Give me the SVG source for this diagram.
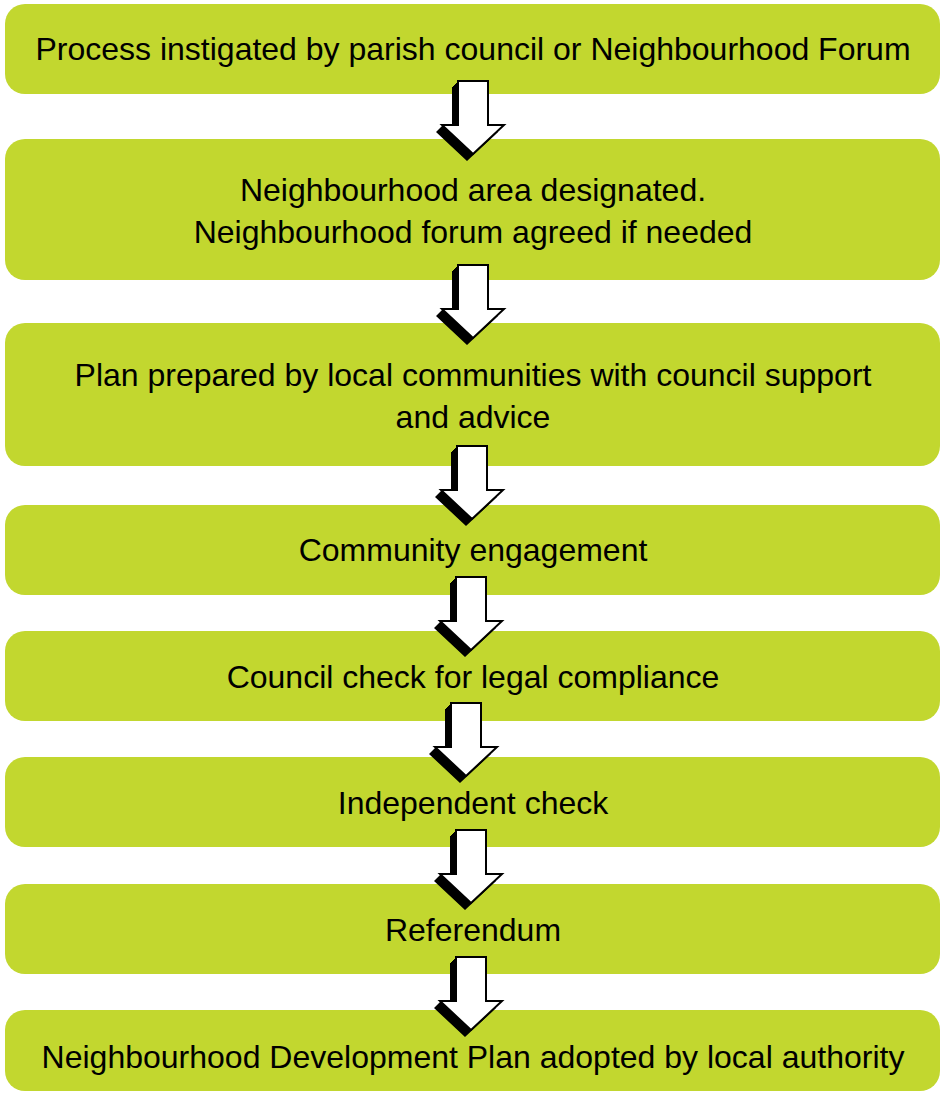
<svg xmlns="http://www.w3.org/2000/svg" xmlns:xlink="http://www.w3.org/1999/xlink" width="941" height="1094" viewBox="0 0 941 1094">
<style>
.box{fill:#c2d72f;}
.t{font-family:"Liberation Sans",Arial,sans-serif;font-size:32px;fill:#000;text-anchor:middle;}
.sh{fill:#000;}
.ar{fill:#fff;stroke:#000;stroke-width:2;stroke-linejoin:miter;}
</style>
<defs>
<polygon id="arr" points="-15,0 15,0 15,44 31,44 0,73 -31,44 -15,44"/>
<g id="arrow">
<use xlink:href="#arr" class="sh" transform="translate(-1,1)"/>
<use xlink:href="#arr" class="sh" transform="translate(-2,2)"/>
<use xlink:href="#arr" class="sh" transform="translate(-3,3)"/>
<use xlink:href="#arr" class="sh" transform="translate(-4,4)"/>
<use xlink:href="#arr" class="sh" transform="translate(-5,5)"/>
<use xlink:href="#arr" class="sh" transform="translate(-6,6)"/>
<use xlink:href="#arr" class="sh" transform="translate(-6,7)"/>
<use xlink:href="#arr" class="ar"/>
</g>
</defs>
<rect width="941" height="1094" fill="#fff"/>
<g id="n1"><rect class="box" x="5" y="4" width="935" height="90" rx="20"/><text class="t" x="473" y="60">Process instigated by parish council or Neighbourhood Forum</text></g>
<g id="n2"><rect class="box" x="5" y="139" width="935" height="141" rx="20"/><text class="t" x="473" y="201">Neighbourhood area designated.</text><text class="t" x="473" y="243">Neighbourhood forum agreed if needed</text></g>
<g id="n3"><rect class="box" x="5" y="323" width="935" height="143" rx="20"/><text class="t" x="473" y="386">Plan prepared by local communities with council support</text><text class="t" x="473" y="428">and advice</text></g>
<g id="n4"><rect class="box" x="5" y="505" width="935" height="90" rx="20"/><text class="t" x="473" y="561">Community engagement</text></g>
<g id="n5"><rect class="box" x="5" y="631" width="935" height="90" rx="20"/><text class="t" x="473" y="688">Council check for legal compliance</text></g>
<g id="n6"><rect class="box" x="5" y="757" width="935" height="90" rx="20"/><text class="t" x="473" y="814">Independent check</text></g>
<g id="n7"><rect class="box" x="5" y="884" width="935" height="90" rx="20"/><text class="t" x="473" y="941">Referendum</text></g>
<g id="n8"><rect class="box" x="5" y="1010" width="935" height="81" rx="20"/><text class="t" x="473" y="1068">Neighbourhood Development Plan adopted by local authority</text></g>
<g id="connectors">
<use xlink:href="#arrow" transform="translate(473,81)"/>
<use xlink:href="#arrow" transform="translate(473,265)"/>
<use xlink:href="#arrow" transform="translate(472,446)"/>
<use xlink:href="#arrow" transform="translate(471,577)"/>
<use xlink:href="#arrow" transform="translate(466,703)"/>
<use xlink:href="#arrow" transform="translate(471,830)"/>
<use xlink:href="#arrow" transform="translate(471,957)"/>
</g>
</svg>
